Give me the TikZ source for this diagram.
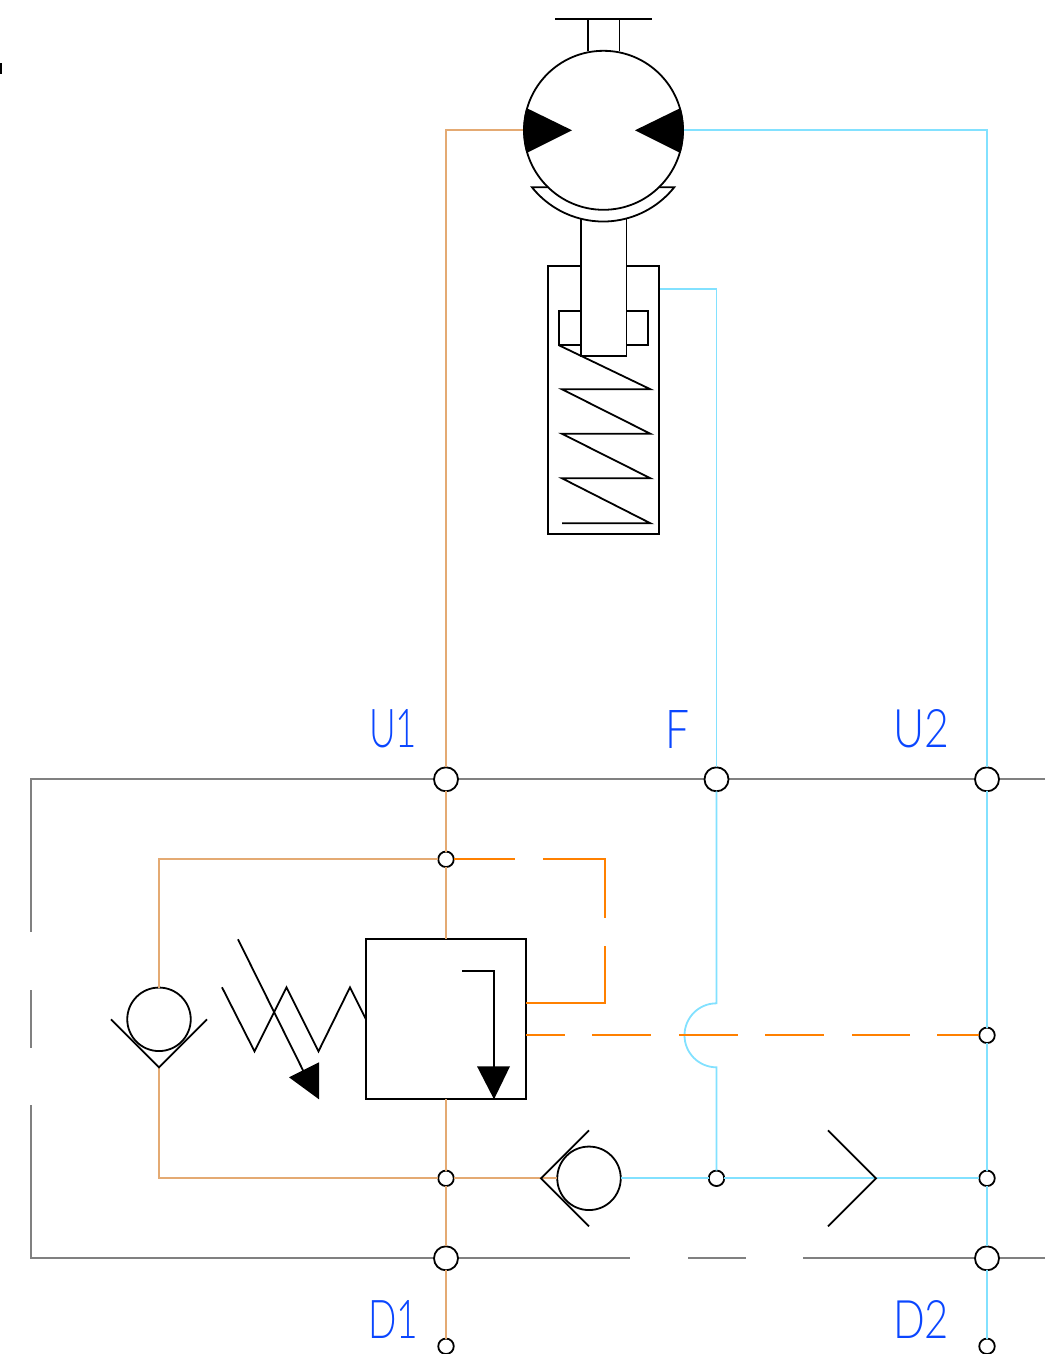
\documentclass[tikz,border=0pt]{standalone}
\usepackage{fontspec}
\newfontfamily\labelfont{Lato Light}
\usetikzlibrary{calc}
\definecolor{tan}{RGB}{228,170,115}
\definecolor{sky}{RGB}{130,225,255}
\definecolor{orng}{RGB}{255,128,0}
\definecolor{frame}{RGB}{128,128,128}
\definecolor{lab}{RGB}{10,70,255}
\tikzset{
  px/.style={x=1pt,y=-1pt,line width=1.8pt,line join=miter},
  sym/.style={draw=black,line width=1.8pt},
  tanline/.style={draw=tan,line width=1.8pt},
  skyline/.style={draw=sky,line width=1.8pt},
  orline/.style={draw=orng,line width=1.8pt},
  frameline/.style={draw=frame,line width=1.8pt},
  bigj/.style={circle,draw=black,fill=white,line width=1.8pt,minimum size=24pt,inner sep=0pt,outer sep=0pt},
  smallj/.style={circle,draw=black,fill=white,line width=1.8pt,minimum size=15.5pt,inner sep=0pt,outer sep=0pt},
  ball/.style={circle,draw=black,line width=1.8pt,minimum size=63.5pt,inner sep=0pt,outer sep=0pt},
  portlabel/.style={text=lab,inner sep=0pt,outer sep=0pt,anchor=south west}
}
\newcommand{\plab}[3]{\resizebox{#1pt}{#2pt}{\labelfont #3}}
\begin{document}
\begin{tikzpicture}[px]
\useasboundingbox (0,0) rectangle (1045,1354);
\begin{scope}[yshift=-0.3pt]
% named points
\coordinate (mL) at (527,130);
\coordinate (mR) at (680,130);
\coordinate (tanTop) at (446,130);
\coordinate (skyTop) at (987,130);
\coordinate (cylP) at (659,289);
\coordinate (skyBend) at (716.5,289);
\coordinate (tl) at (159,859);
\coordinate (bl) at (159,1178);
\coordinate (fTL) at (31,779);
\coordinate (fBL) at (31,1258);
\coordinate (fTR) at (1045,779);
\coordinate (fBR) at (1045,1258);
% mark
\fill[black] (0,63) rectangle (2,74);
% frame
\draw[frameline] (fTR) -- (fTL) -- (31,932);
\draw[frameline] (31,990) -- (31,1048);
\draw[frameline] (31,1105) -- (fBL) -- (630,1258);
\draw[frameline] (688,1258) -- (746,1258);
\draw[frameline] (803,1258) -- (fBR);
% junctions
\node[bigj] (jU1) at (446,779) {};
\node[bigj] (jF) at (716.5,779) {};
\node[bigj] (jU2) at (987,779) {};
\node[bigj] (jD1) at (446,1258) {};
\node[bigj] (jD2) at (987,1258) {};
\node[smallj] (j1) at (446,859) {};
\node[smallj] (j2) at (987,1035) {};
\node[smallj] (j3) at (446,1178) {};
\node[smallj] (j4) at (716.5,1178) {};
\node[smallj] (j5) at (987,1178) {};
\node[smallj] (pD1) at (446,1346) {};
\node[smallj] (pD2) at (987,1346) {};
% relief valve box, balls
\node[draw=black,line width=1.8pt,minimum width=160pt,minimum height=160pt,inner sep=0pt,outer sep=0pt] (valve) at (446,1019) {};
\node[ball] (ballA) at (159,1019) {};
\node[ball] (ballB) at (589,1178) {};
% tan lines
\draw[tanline] (mL) -- (tanTop) -- (jU1);
\draw[tanline] (jU1) -- (j1);
\draw[tanline] (j1) -- (valve.north);
\draw[tanline] (valve.south) -- (j3);
\draw[tanline] (j3) -- (jD1);
\draw[tanline] (jD1) -- (pD1);
\draw[tanline] (j1) -- (tl) -- (ballA.north);
\draw[tanline] (159,1067) -- (bl) -- (j3);
\draw[tanline] (j3) -- (ballB.west);
% sky lines
\draw[skyline] (mR) -- (skyTop) -- (jU2);
\draw[skyline] (jU2) -- (j2);
\draw[skyline] (j2) -- (j5);
\draw[skyline] (j5) -- (jD2);
\draw[skyline] (jD2) -- (pD2);
\draw[skyline] (cylP) -- (skyBend) -- (jF);
\draw[skyline] (jF) -- (716.5,1003) arc[start angle=270,end angle=90,radius=32] -- (j4);
\draw[skyline] (ballB.east) -- (j4);
\draw[skyline] (j4) -- (j5);
% orange lines
\draw[orline] (j1) -- (515,859);
\draw[orline] (543,859) -- (605,859) -- (605,918);
\draw[orline] (605,946) -- (605,1003) -- (526,1003);
\draw[orline] (526,1035) -- (565,1035);
\draw[orline] (592,1035) -- (651,1035);
\draw[orline] (679,1035) -- (738,1035);
\draw[orline] (765,1035) -- (824,1035);
\draw[orline] (852,1035) -- (910,1035);
\draw[orline] (937,1035) -- (j2);
% motor
\node[circle,draw=black,line width=1.8pt,minimum size=159pt,inner sep=0pt,outer sep=0pt] (motor) at (603.5,130) {};
\begin{scope}
\clip (603.5,130) circle[radius=80.2];
\fill[black] (572,130) -- (526,107.5) -- (515,107.5) -- (515,153) -- (526,153) -- cycle;
\fill[black] (635,130) -- (681,107.5) -- (692,107.5) -- (692,153) -- (681,153) -- cycle;
\end{scope}
\draw[sym] (555,19) -- (652,19);
\draw[sym] (587.6,19) -- (587.6,51);
\draw[sym] (619.4,19) -- (619.4,51);
% cylinder
\node[draw=black,line width=1.8pt,minimum width=111pt,minimum height=268pt,inner sep=0pt,outer sep=0pt] (cyl) at (603.5,400) {};
\node[draw=black,line width=1.8pt,minimum width=89pt,minimum height=34pt,inner sep=0pt,outer sep=0pt] (piston) at (603.5,328) {};
\draw[sym] (559,345) -- (650.5,389) -- (562,389) -- (650.5,433.5) -- (562,433.5) -- (650.5,478) -- (562,478) -- (650.5,523) -- (562,523);
% rod: open at the top, where it meets the cradle
\fill[white] (581,218) rectangle (626.5,356);
\draw[sym] (581,218) -- (581,356) -- (626.5,356) -- (626.5,218);
% cradle
\draw[sym] (548,187) -- (532,187) arc[start angle=141.4,end angle=38.6,radius=91] -- (659,187);
% check symbols
\draw[sym] (111,1019) -- (159,1067) -- (207,1019);
\draw[sym] (589,1130) -- (541,1178) -- (589,1226);
\draw[sym] (828,1130) -- (876,1178) -- (828,1226);
% spring
\draw[sym] (222,987) -- (254.5,1051) -- (286.5,987) -- (318.5,1051) -- (350,987) -- (366,1019);
\draw[sym] (238,939) -- (304,1072);
\fill[black] (289,1077) -- (319,1062) -- (319,1099) -- cycle;
% valve arrow
\draw[sym] (462,971) -- (494,971) -- (494,1067);
\fill[black] (477,1066) -- (510,1066) -- (494,1099) -- cycle;
% labels
\node[portlabel] (U1) at (369,748) {\plab{48}{38}{U1}};
\node[portlabel] (F) at (665,748) {\plab{24}{38}{F}};
\node[portlabel] (U2) at (893,748) {\plab{56}{38}{U2}};
\node[portlabel] (D1) at (368,1338) {\plab{50}{38}{D1}};
\node[portlabel] (D2) at (893,1338) {\plab{56}{38}{D2}};
\end{scope}
\end{tikzpicture}
\end{document}
